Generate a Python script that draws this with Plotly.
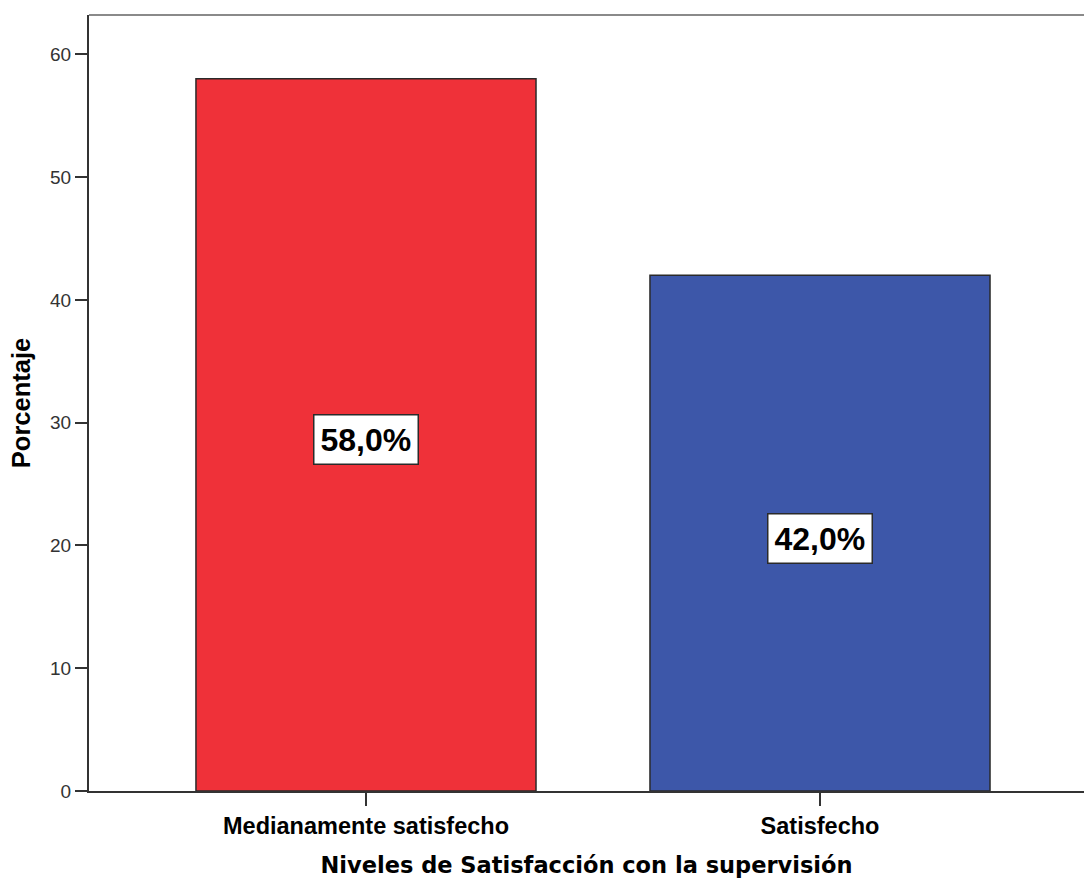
import plotly.graph_objects as go

categories = ["Medianamente satisfecho", "Satisfecho"]
percentages = [58.0, 42.0]
bar_colors = ["#EF3139", "#3D57A9"]
label_texts = ["58,0%", "42,0%"]
y_ticks = [0, 10, 20, 30, 40, 50, 60]

FONT = "Arial, Liberation Sans, sans-serif"

fig = go.Figure()
fig.add_trace(go.Bar(
    x=categories,
    y=percentages,
    width=0.749,
    marker=dict(color=bar_colors, line=dict(color="#2a2a2a", width=1.5)),
    hoverinfo="skip",
))

for cat, val, txt in zip(categories, percentages, label_texts):
    fig.add_annotation(
        x=cat, y=val / 2, text=txt, showarrow=False, yshift=-5,
        font=dict(family=FONT, size=32, color="black", weight="bold"),
        bgcolor="white", bordercolor="#2a2a2a", borderwidth=1.5, borderpad=6,
    )

fig.add_shape(type="line", xref="paper", yref="paper", x0=0, x1=1, y0=1, y1=1,
              line=dict(color="#8a8a8a", width=2))

fig.update_layout(
    width=1084, height=882,
    margin=dict(l=89, r=0, t=15, b=91, autoexpand=False),
    plot_bgcolor="white", paper_bgcolor="white",
    showlegend=False,
    font=dict(family=FONT),
    xaxis=dict(
        type="category", range=[-0.6101, 1.5815],
        showline=True, linecolor="#333333", linewidth=2,
        ticks="outside", ticklen=13, tickwidth=2, tickcolor="#333333",
        tickfont=dict(family=FONT, size=23.5, color="black", weight="bold"),
        showgrid=False, zeroline=False, automargin=False,
        title=dict(text="Niveles de Satisfacción con la supervisión",
                   font=dict(family="DejaVu Sans, sans-serif", size=22.5, color="black", weight="bold"),
                   standoff=19),
    ),
    yaxis=dict(
        range=[0, 63.2], tickvals=y_ticks,
        showline=True, linecolor="#333333", linewidth=2,
        ticks="outside", ticklen=12, tickwidth=2, tickcolor="#333333",
        tickfont=dict(family=FONT, size=19, color="#333333"),
        showgrid=False, zeroline=False, automargin=False,
        title=dict(text="Porcentaje",
                   font=dict(family=FONT, size=25.5, color="black", weight="bold"),
                   standoff=12),
    ),
)

fig.write_html("out.html")
